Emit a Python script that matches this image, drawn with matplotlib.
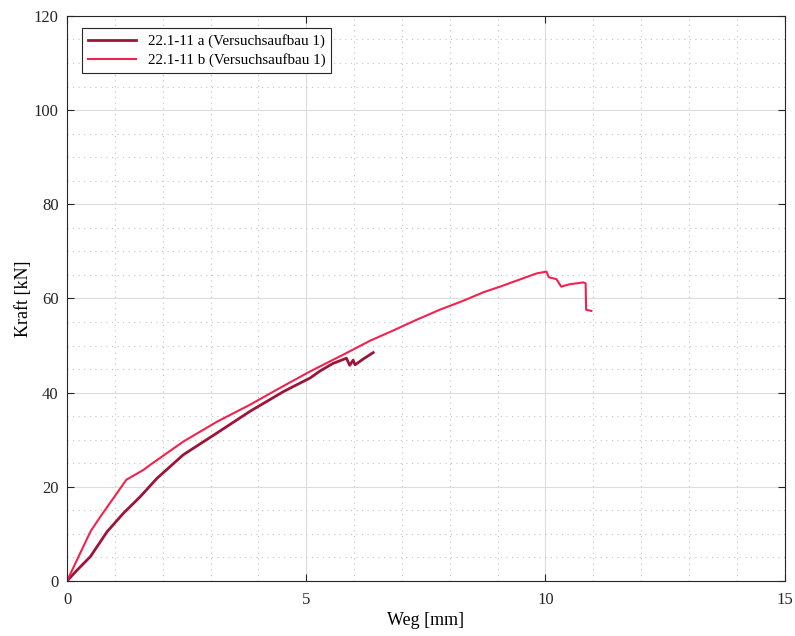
import numpy as np
import matplotlib.pyplot as plt
from matplotlib.ticker import MultipleLocator

plt.rcParams['font.family'] = ['Liberation Serif', 'DejaVu Serif']

# 22.1-11 a (Versuchsaufbau 1)
weg_a = [0.0, 0.21, 0.49, 0.84, 1.18, 1.53, 1.88, 2.43, 3.13, 3.82, 4.52, 4.73,
         5.08, 5.29, 5.56, 5.84, 5.91, 5.98, 6.02, 6.20, 6.40]
kraft_a = [0.0, 2.3, 5.2, 10.5, 14.4, 17.9, 21.8, 26.8, 31.4, 36.0, 40.2, 41.3,
           43.1, 44.6, 46.2, 47.3, 45.8, 46.9, 45.9, 47.2, 48.5]

# 22.1-11 b (Versuchsaufbau 1)
weg_b = [0.0, 0.21, 0.49, 0.70, 1.04, 1.24, 1.60, 1.73, 2.43, 3.13, 3.82, 4.38,
         5.08, 5.84, 6.33, 6.82, 7.27, 7.79, 8.28, 8.70, 9.05, 9.81, 10.02,
         10.07, 10.23, 10.33, 10.50, 10.79, 10.84, 10.85, 10.96]
kraft_b = [0.0, 4.5, 10.5, 13.7, 18.6, 21.5, 23.6, 24.6, 29.6, 33.8, 37.4, 40.6,
           44.5, 48.4, 51.0, 53.2, 55.3, 57.6, 59.5, 61.3, 62.5, 65.3, 65.7,
           64.5, 64.1, 62.5, 63.0, 63.4, 63.2, 57.6, 57.35]

fig = plt.figure(figsize=(7.95, 6.36), dpi=100)
ax = fig.add_axes([0.0843, 0.0865, 0.9027, 0.8885])

ax.plot(weg_a, kraft_a, color='#9c1538', linewidth=2.0, label='22.1-11 a (Versuchsaufbau 1)')
ax.plot(weg_b, kraft_b, color='#f2224f', linewidth=1.5, label='22.1-11 b (Versuchsaufbau 1)')

ax.set_xlim(0, 15)
ax.set_ylim(0, 120)
ax.xaxis.set_major_locator(MultipleLocator(5))
ax.xaxis.set_minor_locator(MultipleLocator(1))
ax.yaxis.set_major_locator(MultipleLocator(20))
ax.yaxis.set_minor_locator(MultipleLocator(5))

ax.grid(which='major', color='#dcdcdc', linestyle='-', linewidth=0.8)
ax.grid(which='minor', color='#c4c4c4', linestyle=(0, (1, 4)), linewidth=0.8)
ax.set_axisbelow(True)

ax.tick_params(which='major', direction='in', top=True, right=True,
               length=5, labelsize=12, colors='#262626')
ax.tick_params(axis='x', which='major', pad=8)
ax.tick_params(axis='y', which='major', pad=6)
ax.tick_params(which='minor', length=0, top=True, right=True)
for s in ax.spines.values():
    s.set_color('#262626')
    s.set_linewidth(0.8)

ax.set_xlabel('Weg [mm]', fontsize=13, labelpad=3)
ax.set_ylabel('Kraft [kN]', fontsize=13, labelpad=1)

leg = ax.legend(loc='upper left', fontsize=10.8, fancybox=False, framealpha=1,
                edgecolor='#262626', bbox_to_anchor=(0.0205, 0.978), borderaxespad=0,
                handlelength=3.2, borderpad=0.4, labelspacing=0.32)
leg.get_frame().set_linewidth(0.8)

plt.savefig('out.png', dpi=100)
